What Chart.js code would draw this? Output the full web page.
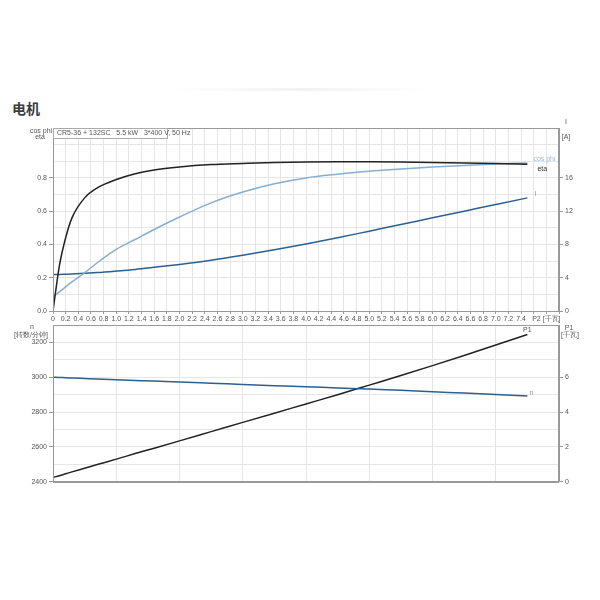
<!DOCTYPE html>
<html>
<head>
<meta charset="utf-8">
<script src="https://cdn.jsdelivr.net/npm/chart.js@4.4.0/dist/chart.umd.min.js"></script>
<style>
body { margin: 0; background: #fff; width: 600px; height: 600px; position: relative; overflow: hidden; }
#title { position: absolute; left: 12px; top: 98px; font: bold 14px "Noto Sans CJK SC", sans-serif; color: #3c3c3c; }
#shade { position: absolute; left: 170px; top: 88px; width: 260px; height: 3px;
  background: linear-gradient(to right, rgba(0,0,0,0), rgba(0,0,0,0.05), rgba(0,0,0,0)); }
canvas { position: absolute; left: 0; }
#topChart { top: 112px; }
#bottomChart { top: 317px; }
</style>
</head>
<body>
<div id="shade"></div>
<div id="title">电机</div>
<canvas id="topChart" width="600" height="218"></canvas>
<canvas id="bottomChart" width="600" height="171"></canvas>
<script>
'use strict';
// shaft power P2 [kW] sample points
const p2 = [0, 0.1, 0.2, 0.3, 0.5, 0.7, 1.0, 1.3, 1.6, 2.0, 2.5, 3.0, 3.5, 4.0, 4.5, 5.0, 5.5, 6.0, 6.5, 7.0, 7.5];
const eta = [0, 0.27, 0.44, 0.56, 0.68, 0.74, 0.79, 0.825, 0.848, 0.866, 0.88, 0.887, 0.893, 0.896, 0.897, 0.897, 0.896, 0.893, 0.889, 0.886, 0.882];
const cosPhi = [0.085, 0.115, 0.145, 0.175, 0.23, 0.29, 0.37, 0.43, 0.49, 0.565, 0.65, 0.715, 0.765, 0.80, 0.822, 0.84, 0.853, 0.865, 0.875, 0.884, 0.89];
const current = [4.4, 4.4, 4.42, 4.44, 4.53, 4.62, 4.8, 5.0, 5.25, 5.6, 6.1, 6.7, 7.35, 8.05, 8.8, 9.6, 10.4, 11.2, 12.0, 12.8, 13.6];
const speed = [3000, 2999, 2997, 2996, 2993, 2990, 2986, 2982, 2978, 2973, 2966, 2959, 2952, 2945, 2939, 2932, 2925, 2917, 2909, 2901, 2893];
const p1 = [0.25, 0.35, 0.46, 0.57, 0.78, 0.99, 1.3, 1.62, 1.93, 2.35, 2.88, 3.41, 3.94, 4.47, 5.0, 5.55, 6.1, 6.67, 7.25, 7.85, 8.45];

// ticks
const p2TickValues = [0, 0.2, 0.4, 0.6, 0.8, 1.0, 1.2, 1.4, 1.6, 1.8, 2.0, 2.2, 2.4, 2.6, 2.8, 3.0, 3.2, 3.4, 3.6, 3.8,
  4.0, 4.2, 4.4, 4.6, 4.8, 5.0, 5.2, 5.4, 5.6, 5.8, 6.0, 6.2, 6.4, 6.6, 6.8, 7.0, 7.2, 7.4, 7.6, 7.8, 8.0];
const p2TickLabels = ['0', '0.2', '0.4', '0.6', '0.8', '1.0', '1.2', '1.4', '1.6', '1.8', '2.0', '2.2', '2.4', '2.6', '2.8', '3.0', '3.2', '3.4', '3.6', '3.8',
  '4.0', '4.2', '4.4', '4.6', '4.8', '5.0', '5.2', '5.4', '5.6', '5.8', '6.0', '6.2', '6.4', '6.6', '6.8', '7.0', '7.2', '7.4', '', 'P2 [千瓦]', ''];
const effTickValues = [0, 0.1, 0.2, 0.3, 0.4, 0.5, 0.6, 0.7, 0.8, 0.9, 1.0, 1.1];
const effTickLabels = ['0.0', '', '0.2', '', '0.4', '', '0.6', '', '0.8', '', '', ''];
const currentTicks = [0, 4, 8, 12, 16];
const bottomXTicks = [0, 1, 2, 3, 4, 5, 6, 7, 8];
const speedTickValues = [2400, 2500, 2600, 2700, 2800, 2900, 3000, 3100, 3200, 3300];
const speedTickLabels = ['2400', '', '2600', '', '2800', '', '3000', '', '3200', ''];
const p1Ticks = [0, 2, 4, 6];

const pts = ys => p2.map((x, i) => ({ x, y: ys[i] }));
const setTicks = vals => s => { s.ticks = vals.map(v => ({ value: v })); };

Chart.defaults.font.family = '"Liberation Sans", Arial, sans-serif';
Chart.defaults.font.size = 7;
Chart.defaults.color = '#555';

const GRID = '#e6e6e6';
const AXIS = '#999';

function lineSet(data, color, axis) {
  return { data, borderColor: color, borderWidth: 1.5, pointRadius: 0, fill: false,
    cubicInterpolationMode: 'monotone', yAxisID: axis };
}

function frameAndText(drawText) {
  return {
    id: 'frameText',
    afterDraw(chart) {
      const { ctx, chartArea: a } = chart;
      ctx.save();
      ctx.strokeStyle = AXIS;
      ctx.lineWidth = 1;
      ctx.strokeRect(Math.round(a.left) + 0.5, Math.round(a.top) + 0.5, Math.round(a.right - a.left) - 1, Math.round(a.bottom - a.top));
      ctx.font = '7px "Liberation Sans", Arial, sans-serif';
      ctx.textBaseline = 'middle';
      drawText(chart, ctx, a);
      ctx.restore();
    }
  };
}

function txt(ctx, s, x, y, color, align) {
  ctx.fillStyle = color;
  ctx.textAlign = align || 'center';
  ctx.fillText(s, x, y);
}

new Chart(document.getElementById('topChart'), {
  type: 'line',
  data: {
    datasets: [
      lineSet(pts(eta), '#222222', 'y'),
      lineSet(pts(cosPhi), '#86aed0', 'y'),
      lineSet(pts(current), '#2c5f92', 'yI')
    ]
  },
  options: {
    responsive: false,
    animation: false,
    layout: { padding: { top: 16, left: 0, right: 0, bottom: 0 } },
    plugins: { legend: { display: false }, tooltip: { enabled: false } },
    scales: {
      x: {
        type: 'linear', min: 0, max: 8,
        afterBuildTicks: setTicks(p2TickValues),
        afterFit: s => { s.height = 19; },
        ticks: { autoSkip: false, maxRotation: 0, padding: 1, callback: (v, i) => p2TickLabels[i] },
        grid: { color: GRID, tickLength: 3, tickColor: AXIS },
        border: { color: AXIS }
      },
      y: {
        position: 'left', min: 0, max: 1.1,
        afterBuildTicks: setTicks(effTickValues),
        afterFit: s => { s.width = 53; },
        ticks: { autoSkip: false, padding: 2, callback: (v, i) => effTickLabels[i] },
        grid: { color: GRID, tickLength: 4, tickColor: c => (c.tick && effTickLabels[c.index] ? AXIS : 'rgba(0,0,0,0)') },
        border: { color: AXIS }
      },
      yI: {
        position: 'right', min: 0, max: 22,
        afterBuildTicks: setTicks(currentTicks),
        afterFit: s => { s.width = 41; },
        ticks: { autoSkip: false, padding: 2 },
        grid: { drawOnChartArea: false, tickLength: 4, tickColor: AXIS },
        border: { color: AXIS }
      }
    }
  },
  plugins: [frameAndText((chart, ctx, a) => {
    const xs = chart.scales.x, y = chart.scales.y, yI = chart.scales.yI;
    const last = p2.length - 1;
    const xe = xs.getPixelForValue(p2[last]);
    // info box
    ctx.fillStyle = '#fff';
    ctx.fillRect(a.left + 1, a.top + 1, 113, 9);
    ctx.strokeStyle = '#aaa';
    ctx.strokeRect(a.left + 0.5, a.top + 0.5, 114, 10);
    txt(ctx, 'CR5-36 + 132SC   5.5 kW   3*400 V, 50 Hz', a.left + 4, a.top + 5.5, '#555', 'left');
    // axis titles
    txt(ctx, 'cos phi', 41, a.top + 3, '#555');
    txt(ctx, 'eta', 40, a.top + 9, '#555');
    txt(ctx, 'I', 566, a.top - 6, '#555');
    txt(ctx, '[A]', 566, a.top + 9, '#555');
    // curve labels
    txt(ctx, 'cos phi', xe + 6, y.getPixelForValue(cosPhi[last]) - 4, '#9dbad4', 'left');
    txt(ctx, 'eta', xe + 10, y.getPixelForValue(eta[last]) + 5, '#333', 'left');
    txt(ctx, 'I', xe + 7, yI.getPixelForValue(current[last]) - 4, '#8aa0b8', 'left');
  })]
});

new Chart(document.getElementById('bottomChart'), {
  type: 'line',
  data: {
    datasets: [
      lineSet(pts(speed), '#2c5f92', 'y'),
      lineSet(pts(p1), '#222222', 'yP')
    ]
  },
  options: {
    responsive: false,
    animation: false,
    layout: { padding: { top: 8, left: 0, right: 0, bottom: 1 } },
    plugins: { legend: { display: false }, tooltip: { enabled: false } },
    scales: {
      x: {
        type: 'linear', min: 0, max: 8,
        afterBuildTicks: setTicks(bottomXTicks),
        afterFit: s => { s.height = 0; },
        ticks: { display: false },
        grid: { color: GRID, drawTicks: false },
        border: { color: AXIS }
      },
      y: {
        position: 'left', min: 2400, max: 3300,
        afterBuildTicks: setTicks(speedTickValues),
        afterFit: s => { s.width = 53; },
        ticks: { autoSkip: false, padding: 2, callback: (v, i) => speedTickLabels[i] },
        grid: { color: GRID, tickLength: 4, tickColor: c => (c.tick && speedTickLabels[c.index] ? AXIS : 'rgba(0,0,0,0)') },
        border: { color: AXIS }
      },
      yP: {
        position: 'right', min: 0, max: 9,
        afterBuildTicks: setTicks(p1Ticks),
        afterFit: s => { s.width = 41; },
        ticks: { autoSkip: false, padding: 2 },
        grid: { drawOnChartArea: false, tickLength: 4, tickColor: AXIS },
        border: { color: AXIS }
      }
    }
  },
  plugins: [frameAndText((chart, ctx, a) => {
    const xs = chart.scales.x, y = chart.scales.y, yP = chart.scales.yP;
    const last = p2.length - 1;
    const xe = xs.getPixelForValue(p2[last]);
    txt(ctx, 'n', 32, a.top + 2, '#555');
    txt(ctx, '[转数/分钟]', 31, a.top + 10, '#555');
    txt(ctx, 'P1', 569, a.top + 3, '#555');
    txt(ctx, '[千瓦]', 570, a.top + 10, '#555');
    txt(ctx, 'P1', xe, yP.getPixelForValue(p1[last]) - 5, '#555');
    txt(ctx, 'n', xe + 2, y.getPixelForValue(speed[last]) - 3, '#999', 'left');
  })]
});
</script>
</body>
</html>
